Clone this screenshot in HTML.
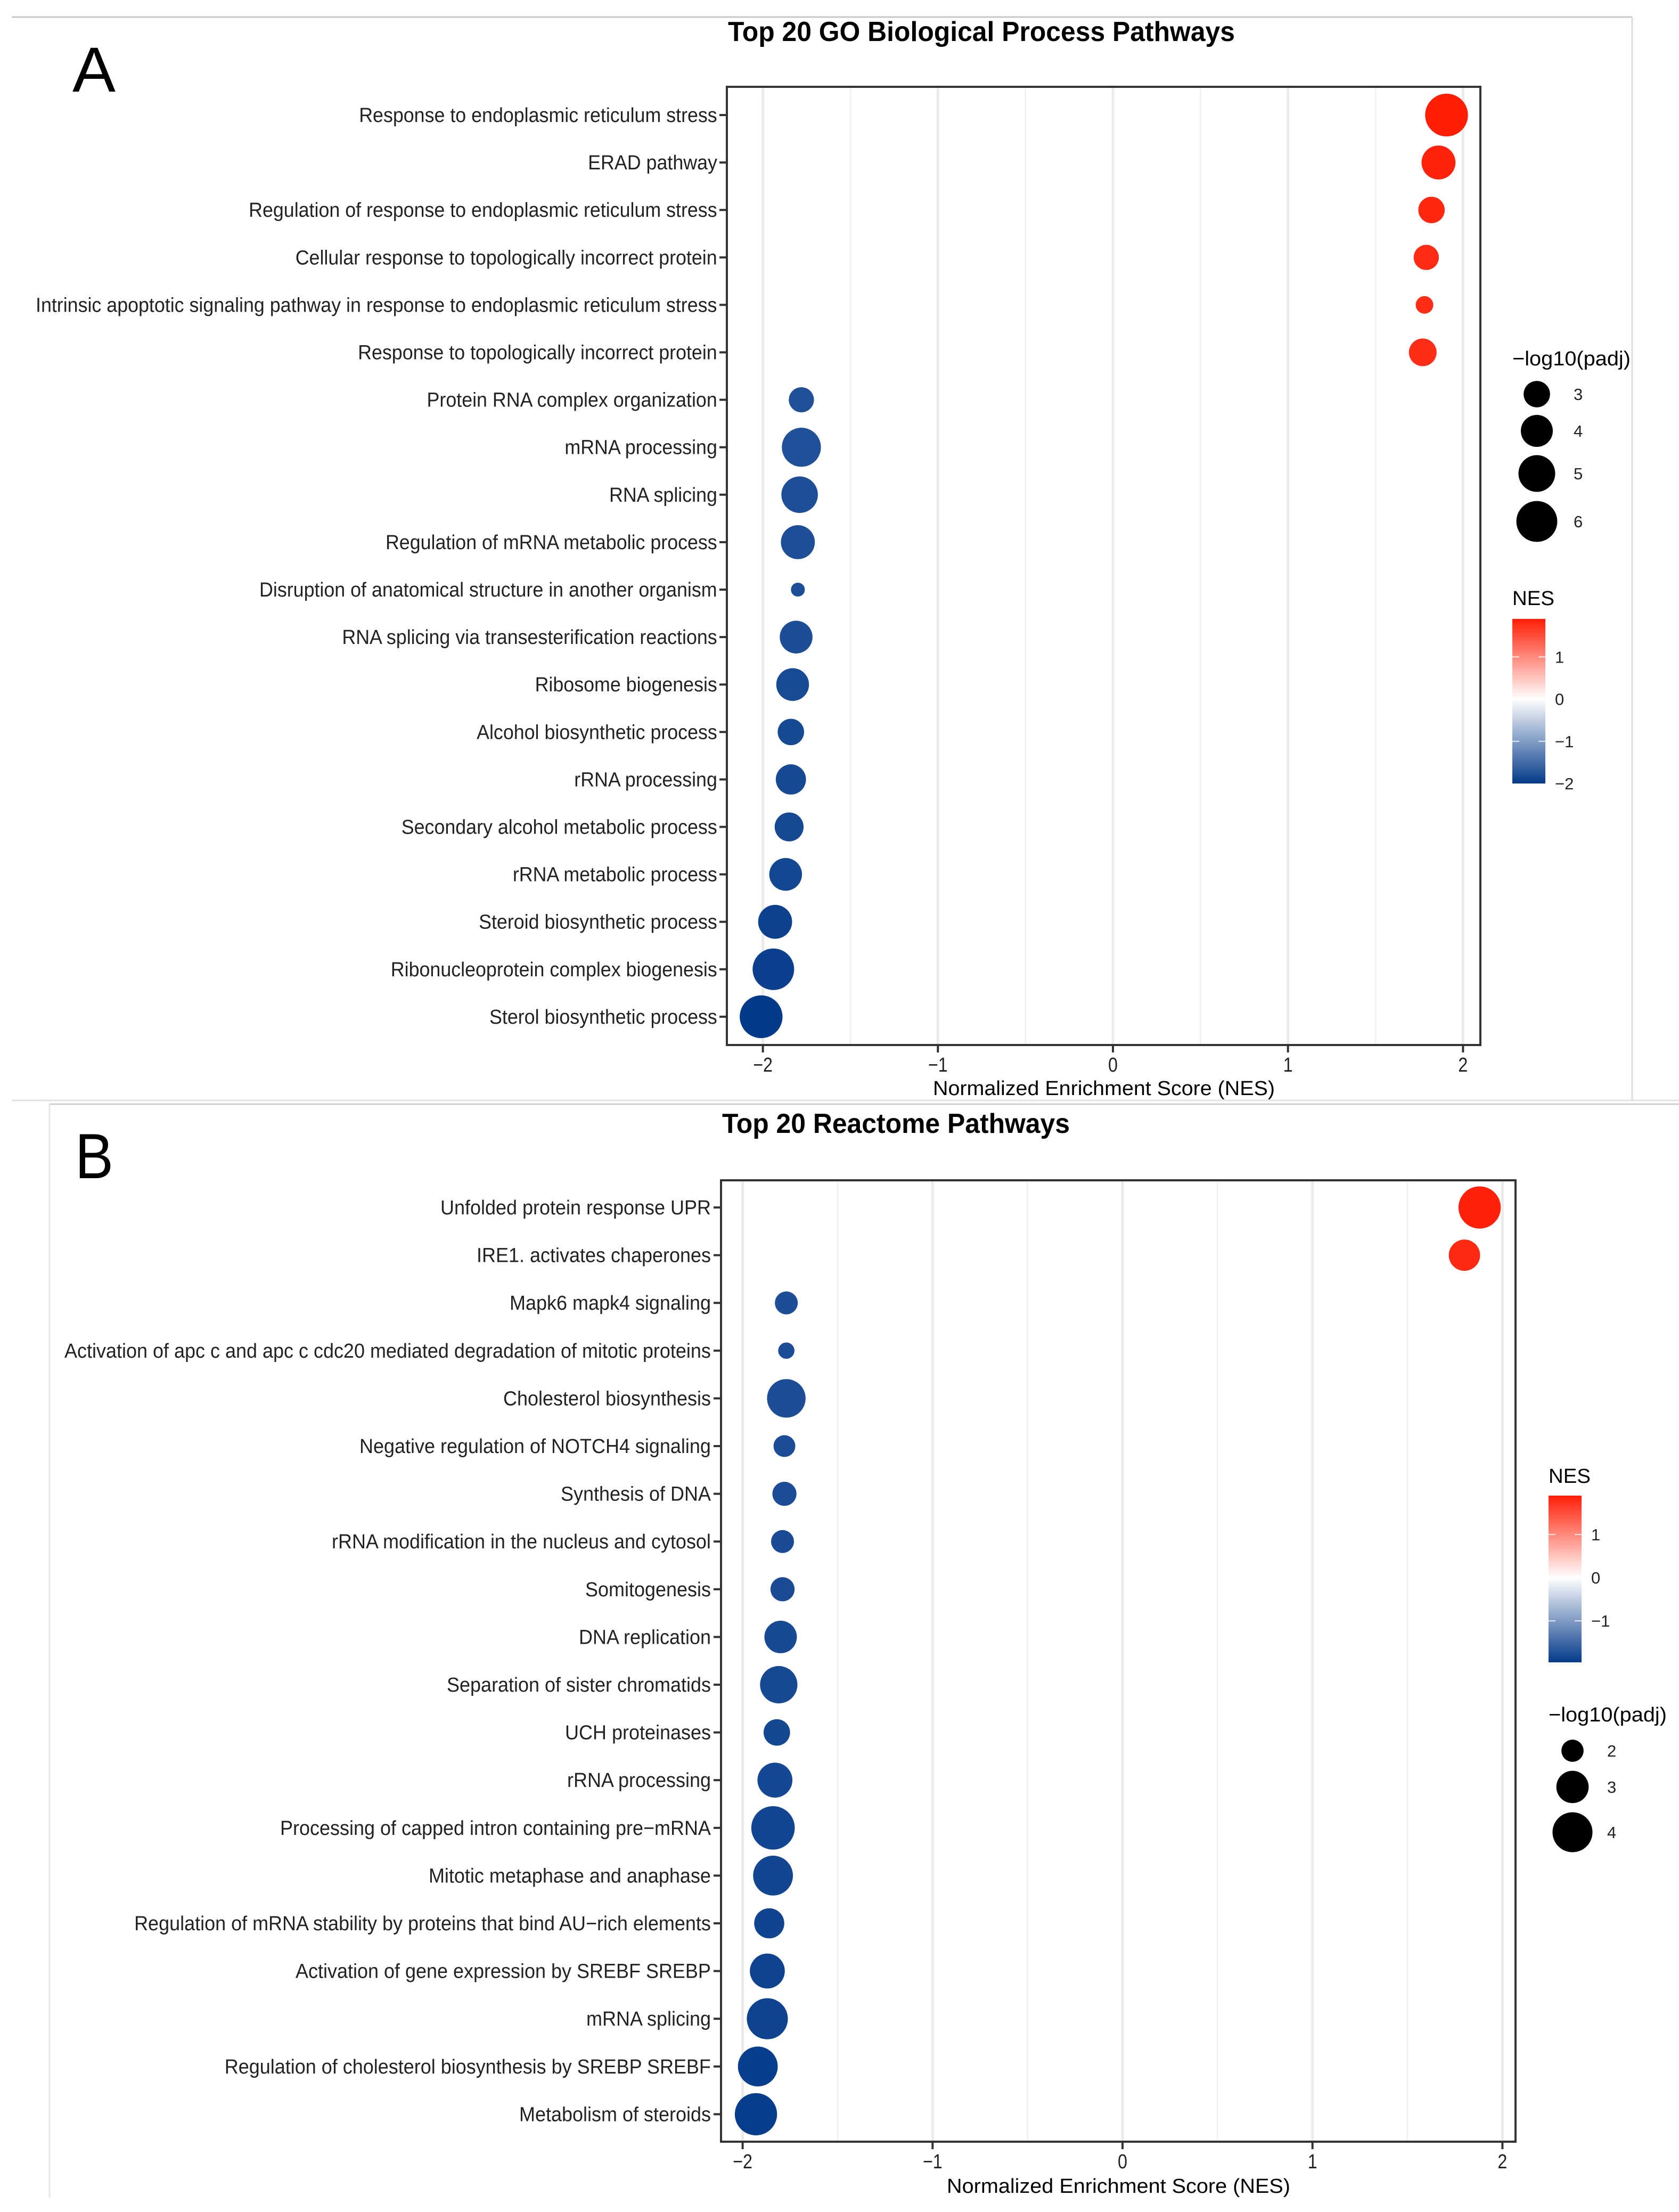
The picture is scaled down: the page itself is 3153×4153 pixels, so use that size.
<!DOCTYPE html>
<html><head><meta charset="utf-8">
<style>
html,body{margin:0;padding:0;background:#fff;}
svg{display:block;font-family:"Liberation Sans",Arial,sans-serif;}
</style></head>
<body>
<svg id="fig" width="3153" height="4153" viewBox="0 0 3153 4153" xmlns="http://www.w3.org/2000/svg">
  <rect x="0" y="0" width="3153" height="4153" fill="#fff"/>
  <!-- frame lines -->
  <line x1="22" y1="32" x2="3065" y2="32" stroke="#c8c8c8" stroke-width="3"/>
  <line x1="3065" y1="32" x2="3065" y2="2066" stroke="#dcdcdc" stroke-width="3"/>
  <line x1="22" y1="2066" x2="3153" y2="2066" stroke="#e2e2e2" stroke-width="3"/>
  <line x1="93" y1="2073" x2="3153" y2="2073" stroke="#d0d0d0" stroke-width="3"/>
  <line x1="93" y1="2073" x2="93" y2="4126" stroke="#e6e6e6" stroke-width="3"/>
  <text x="136" y="172" font-size="120" fill="#000" textLength="81" lengthAdjust="spacingAndGlyphs">A</text>
  <text x="141" y="2212" font-size="120" fill="#000" textLength="72" lengthAdjust="spacingAndGlyphs">B</text>
  <g id="chartA"></g>
  <g id="chartB"></g>
</svg>
<script>
// ---------- Panel A data ----------
const catsA = ["Response to endoplasmic reticulum stress","ERAD pathway","Regulation of response to endoplasmic reticulum stress","Cellular response to topologically incorrect protein","Intrinsic apoptotic signaling pathway in response to endoplasmic reticulum stress","Response to topologically incorrect protein","Protein RNA complex organization","mRNA processing","RNA splicing","Regulation of mRNA metabolic process","Disruption of anatomical structure in another organism","RNA splicing via transesterification reactions","Ribosome biogenesis","Alcohol biosynthetic process","rRNA processing","Secondary alcohol metabolic process","rRNA metabolic process","Steroid biosynthetic process","Ribonucleoprotein complex biogenesis","Sterol biosynthetic process"];
const nesA = [1.906,1.86,1.82,1.79,1.78,1.77,-1.78,-1.78,-1.79,-1.80,-1.80,-1.81,-1.83,-1.84,-1.84,-1.85,-1.87,-1.93,-1.94,-2.01];
const padjA = [6.48,4.40,3.0,2.80,1.81,3.21,2.80,5.54,4.95,4.40,1.45,4.15,4.15,3.0,3.66,3.43,4.15,4.40,6.16,6.48];
const xTicksA = [-2,-1,0,1,2];
const xTickLabelsA = ["\u22122","\u22121","0","1","2"];
const sizeBreaksA = [3,4,5,6];
const colorBreaksA = [1,0,-1,-2];
const colorLimA = [-2.0,1.90];

// ---------- Panel B data ----------
const catsB = ["Unfolded protein response UPR","IRE1. activates chaperones","Mapk6 mapk4 signaling","Activation of apc c and apc c cdc20 mediated degradation of mitotic proteins","Cholesterol biosynthesis","Negative regulation of NOTCH4 signaling","Synthesis of DNA","rRNA modification in the nucleus and cytosol","Somitogenesis","DNA replication","Separation of sister chromatids","UCH proteinases","rRNA processing","Processing of capped intron containing pre\u2212mRNA","Mitotic metaphase and anaphase","Regulation of mRNA stability by proteins that bind AU\u2212rich elements","Activation of gene expression by SREBF SREBP","mRNA splicing","Regulation of cholesterol biosynthesis by SREBP SREBF","Metabolism of steroids"];
const nesB = [1.88,1.80,-1.77,-1.77,-1.77,-1.78,-1.78,-1.79,-1.79,-1.80,-1.81,-1.82,-1.83,-1.84,-1.84,-1.86,-1.87,-1.87,-1.92,-1.93];
const padjB = [4.34,2.88,2.06,1.59,3.80,1.97,2.16,2.06,2.16,3.02,3.64,2.38,3.32,4.53,3.98,2.75,3.32,4.16,3.98,4.34];
const xTicksB = [-2,-1,0,1,2];
const xTickLabelsB = ["\u22122","\u22121","0","1","2"];
const sizeBreaksB = [2,3,4];
const colorBreaksB = [1,0,-1];
const colorLimB = [-1.96,1.90];

const NS = "http://www.w3.org/2000/svg";
function mk(parent, tag, attrs){
  const e = document.createElementNS(NS, tag);
  for (const k in attrs) e.setAttribute(k, attrs[k]);
  parent.appendChild(e);
  return e;
}
const LOW=[4,58,138], HIGH=[255,30,6];
function colorFor(v, lim){
  let t, c;
  if (v >= 0){ t = Math.min(1, v/lim[1]); c = HIGH; }
  else { t = Math.min(1, v/lim[0]); c = LOW; }
  const r = Math.round(255 + (c[0]-255)*t), g = Math.round(255 + (c[1]-255)*t), b = Math.round(255 + (c[2]-255)*t);
  return `rgb(${r},${g},${b})`;
}

function drawPanel(g, cfg){
  const {cats, nes, padj, xTicks, xTickLabels, sizeBreaks, colorBreaks, colorLim, L} = cfg;
  const xS = v => L.x0 + v*L.unit;
  const yS = i => L.row0 + i*L.step;
  const rS = v => Math.sqrt(Math.max(20, L.ra*v + L.rb));

  // title
  const t = mk(g,'text',{x:L.titleX,y:L.titleY,'font-size':L.titleFs,'font-weight':'bold',fill:'#000',textLength:L.titleW,lengthAdjust:'spacingAndGlyphs'});
  t.textContent = cfg.title;
  
  

  // panel background
  const bg = mk(g,'rect',{x:L.left,y:L.top,width:L.right-L.left,height:L.bottom-L.top,fill:'#fff'});
  
  

  // minor grid
  for (let k=0;k<xTicks.length-1;k++){
    const v=(xTicks[k]+xTicks[k+1])/2;
    const ln = mk(g,'line',{x1:xS(v),x2:xS(v),y1:L.top,y2:L.bottom,stroke:'#f2f2f2','stroke-width':3});
    
    
  }
  // major grid
  xTicks.forEach(v=>{
    const ln = mk(g,'line',{x1:xS(v),x2:xS(v),y1:L.top,y2:L.bottom,stroke:'#ebebeb','stroke-width':5});
    
    
  });

  // points
  cats.forEach((c,i)=>{
    const cir = mk(g,'circle',{cx:xS(nes[i]),cy:yS(i),r:rS(padj[i]),fill:colorFor(nes[i],colorLim)});
    
    
  });

  // border
  const br = mk(g,'rect',{x:L.left,y:L.top,width:L.right-L.left,height:L.bottom-L.top,fill:'none',stroke:'#333','stroke-width':4});
  
  

  // y labels
  const labs = [];
  cats.forEach((c,i)=>{
    const tk = mk(g,'line',{x1:L.left-14,x2:L.left,y1:yS(i),y2:yS(i),stroke:'#333','stroke-width':4});
    
    
    const tx = mk(g,'text',{x:0,y:0,'font-size':38,fill:'#222'});
    tx.textContent = c;
    
    
    labs.push([tx,i]);
  });
  let maxW = 0;
  labs.forEach(([tx])=>{ maxW = Math.max(maxW, tx.getComputedTextLength()); });
  const sx = maxW>0 ? L.longestW/maxW : 0.88;
  labs.forEach(([tx,i])=>{
    const w = tx.getComputedTextLength();
    tx.setAttribute('transform', `translate(${L.labelRight},${yS(i)+13}) scale(${sx},1) translate(${-w},0)`);
  });

  // x ticks
  xTicks.forEach((v,k)=>{
    const tk = mk(g,'line',{x1:xS(v),x2:xS(v),y1:L.bottom,y2:L.bottom+14,stroke:'#333','stroke-width':4});
    
    
    const tx = mk(g,'text',{x:xS(v),y:L.bottom+50,'font-size':38,fill:'#222','text-anchor':'middle',transform:`translate(${xS(v)},0) scale(0.85,1) translate(${-xS(v)},0)`});
    tx.textContent = xTickLabels[k];
    
    
  });
  const xl = mk(g,'text',{x:L.xlabX,y:L.xlabY,'font-size':38,fill:'#000',textLength:L.xlabW,lengthAdjust:'spacingAndGlyphs'});
  xl.textContent = 'Normalized Enrichment Score (NES)';
  
  

  // size legend
  const sl = mk(g,'text',{x:L.sLegX,y:L.sLegTitleY,'font-size':38,fill:'#000',textLength:222,lengthAdjust:'spacingAndGlyphs'});
  sl.textContent = '\u2212log10(padj)';
  
  
  sizeBreaks.forEach((v,k)=>{
    const cy = L.sLegYs[k];
    const c = mk(g,'circle',{cx:L.sDotX,cy:cy,r:rS(v),fill:'#000'});
    
    
    const tx = mk(g,'text',{x:L.sLabX,y:cy+11,'font-size':31,fill:'#222'});
    tx.textContent = String(v);
    
    
  });

  // color legend
  const ct = mk(g,'text',{x:L.cLegX,y:L.cTitleY,'font-size':38,fill:'#000',textLength:79,lengthAdjust:'spacingAndGlyphs'});
  ct.textContent = 'NES';
  
  
  const gid = 'grad'+cfg.id;
  const defs = mk(g,'defs',{});
  const lg = mk(defs,'linearGradient',{id:gid,x1:0,y1:0,x2:0,y2:1});
  const zeroFrac = colorLim[1]/(colorLim[1]-colorLim[0]);
  mk(lg,'stop',{offset:0,'stop-color':colorFor(colorLim[1],colorLim)});
  mk(lg,'stop',{offset:zeroFrac,'stop-color':'#ffffff'});
  mk(lg,'stop',{offset:1,'stop-color':colorFor(colorLim[0],colorLim)});
  const cb = mk(g,'rect',{x:L.cLegX,y:L.cTop,width:62,height:L.cBot-L.cTop,fill:`url(#${gid})`});
  
  
  const cyS = v => L.cTop + (colorLim[1]-v)/(colorLim[1]-colorLim[0])*(L.cBot-L.cTop);
  colorBreaks.forEach(v=>{
    const y = cyS(v);
    if (v > colorLim[0]+0.05){
      const a = mk(g,'line',{x1:L.cLegX,x2:L.cLegX+13,y1:y,y2:y,stroke:'#fff','stroke-width':2,opacity:0.8});
      
      
      const b = mk(g,'line',{x1:L.cLegX+49,x2:L.cLegX+62,y1:y,y2:y,stroke:'#fff','stroke-width':2,opacity:0.8});
      
      
    }
    const tx = mk(g,'text',{x:L.cLegX+80,y:y+11,'font-size':31,fill:'#222'});
    tx.textContent = v<0 ? '\u2212'+Math.abs(v) : String(v);
    
    
  });
}

drawPanel(document.getElementById('chartA'), {
  id:'A', title:'Top 20 GO Biological Process Pathways',
  cats:catsA, nes:nesA, padj:padjA, xTicks:xTicksA, xTickLabels:xTickLabelsA,
  sizeBreaks:sizeBreaksA, colorBreaks:colorBreaksA, colorLim:colorLimA,
  L:{x0:2090, unit:328.7, row0:216, step:89.1, left:1365, right:2780, top:163, bottom:1962,
     ra:287, rb:-246, titleX:1367, titleY:77, titleFs:52, titleW:952,
     labelRight:1347, longestW:1280, xlabX:1752, xlabY:2056, xlabW:642,
     sLegX:2840, sLegTitleY:686, sDotX:2886, sLegYs:[740,809,889,979], sLabX:2955,
     cLegX:2840, cTitleY:1136, cTop:1162, cBot:1471}
});
drawPanel(document.getElementById('chartB'), {
  id:'B', title:'Top 20 Reactome Pathways',
  cats:catsB, nes:nesB, padj:padjB, xTicks:xTicksB, xTickLabels:xTickLabelsB,
  sizeBreaks:sizeBreaksB, colorBreaks:colorBreaksB, colorLim:colorLimB,
  L:{x0:2108, unit:356.7, row0:2267, step:89.6, left:1354, right:2846, top:2216, bottom:4021,
     ra:487, rb:-540, titleX:1356, titleY:2127, titleFs:52, titleW:653,
     labelRight:1335, longestW:1214, xlabX:1778, xlabY:4117, xlabW:645,
     sLegX:2908, sLegTitleY:3232, sDotX:2953, sLegYs:[3287,3355,3440], sLabX:3018,
     cLegX:2908, cTitleY:2784, cTop:2808, cBot:3121}
});
</script>
</body></html>
